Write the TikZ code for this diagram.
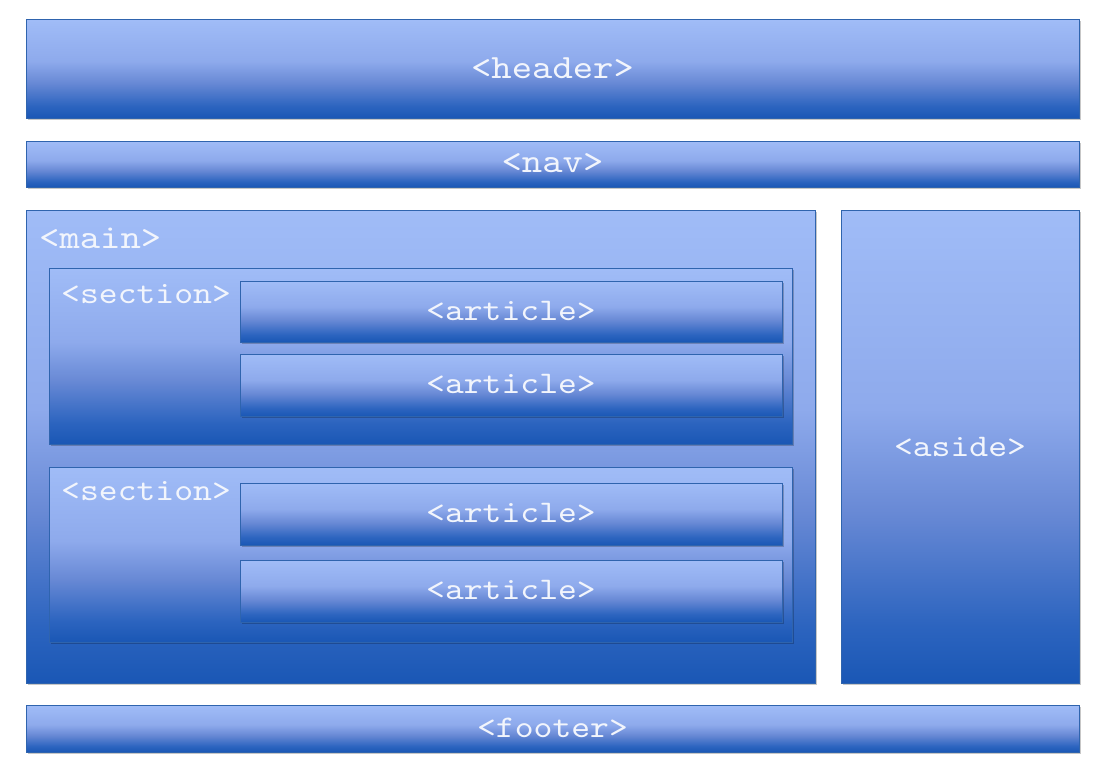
\documentclass[tikz,border=0pt]{standalone}
\usepackage{fontspec}
\newfontfamily\codefont{lmmono10-regular.otf}[FakeStretch=1.14]
\usetikzlibrary{shadows}
\definecolor{glt}{HTML}{A0BCF7}
\definecolor{glt2}{HTML}{8EAAEC}
\definecolor{gmd}{HTML}{6889D5}
\definecolor{gdk2}{HTML}{2C64BF}
\definecolor{gdk}{HTML}{1A57B5}
\definecolor{edgeblue}{HTML}{2F64AE}
\definecolor{txt}{HTML}{F2F5FC}
\pgfdeclareverticalshading{boxgrad}{100bp}{color(0bp)=(gdk); color(25bp)=(gdk); color(31bp)=(gdk2); color(43bp)=(gmd); color(54bp)=(glt2); color(75bp)=(glt); color(100bp)=(glt)}
\tikzset{
  box/.style={shading=boxgrad, draw=edgeblue, line width=1bp, inner sep=0pt, outer sep=0pt, anchor=north west,
    general shadow={fill=black, opacity=0.22, shadow xshift=1.5bp, shadow yshift=-1.5bp}},
  bigtxt/.style={text=txt, font=\codefont\fontsize{34bp}{38bp}\selectfont, inner sep=0pt},
  smalltxt/.style={text=txt, font=\codefont\fontsize{31.5bp}{36bp}\selectfont, inner sep=0pt}
}
\begin{document}
\begin{tikzpicture}[x=1bp, y=-1bp]
\useasboundingbox[fill=white] (0,0) rectangle (1096,764);
% top-level boxes
\node[box, minimum width=1053bp, minimum height=98bp] (header) at (26,20) {};
\node[box, minimum width=1053bp, minimum height=46bp] (nav) at (26,141) {};
\node[box, minimum width=789bp, minimum height=473bp] (main) at (26,210) {};
\node[box, minimum width=238bp, minimum height=473bp] (aside) at (841,210) {};
\node[box, minimum width=1053bp, minimum height=47bp] (footer) at (26,705) {};
% sections
\node[box, minimum width=743bp, minimum height=176bp] (sec1) at (49,268) {};
\node[box, minimum width=743bp, minimum height=175bp] (sec2) at (49,467) {};
% articles
\node[box, minimum width=542bp, minimum height=61bp] (art1) at (240,281) {};
\node[box, minimum width=542bp, minimum height=62bp] (art2) at (240,354) {};
\node[box, minimum width=542bp, minimum height=62bp] (art3) at (240,483) {};
\node[box, minimum width=542bp, minimum height=62bp] (art4) at (240,560) {};
% labels
\node[bigtxt] (headerlbl) at ([yshift=1bp]header.center) {<header>};
\node[bigtxt] (navlbl) at ([yshift=1bp]nav.center) {<nav>};
\node[bigtxt, anchor=west] (mainlbl) at (39,238) {<main>};
\node[smalltxt] (asidelbl) at (aside.center) {<aside>};
\node[smalltxt] (footerlbl) at ([yshift=1bp]footer.center) {<footer>};
\node[smalltxt, anchor=west] (sec1lbl) at (61,294) {<section>};
\node[smalltxt, anchor=west] (sec2lbl) at (61,491) {<section>};
\node[smalltxt] (art1lbl) at ([yshift=1bp]art1.center) {<article>};
\node[smalltxt] (art2lbl) at ([yshift=1bp]art2.center) {<article>};
\node[smalltxt] (art3lbl) at ([yshift=1bp]art3.center) {<article>};
\node[smalltxt] (art4lbl) at ([yshift=1bp]art4.center) {<article>};
\end{tikzpicture}
\end{document}
